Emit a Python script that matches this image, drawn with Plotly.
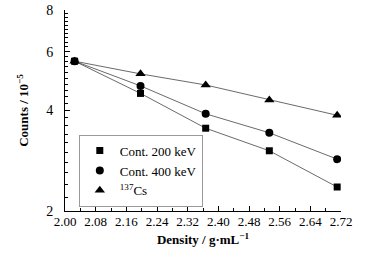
import numpy as np
import plotly.graph_objects as go

density = [2.025, 2.197, 2.367, 2.533, 2.710]
cont200 = [5.62, 4.50, 3.54, 3.03, 2.36]
cont400 = [5.62, 4.74, 3.91, 3.43, 2.86]
cs137 = [5.62, 5.15, 4.77, 4.30, 3.87]

series = [
    ("Cont. 200 keV", cont200, "square", 7),
    ("Cont. 400 keV", cont400, "circle", 8),
    ("<sup>137</sup>Cs", cs137, "triangle-up", 9),
]

x_ticks = [round(2.00 + 0.08 * i, 2) for i in range(10)]
x_minor = [round(2.04 + 0.08 * i, 2) for i in range(9)]
y_ticks = [2, 4, 6, 8]
y_minor = [round(2 + 0.2 * i, 1) for i in range(31) if round(2 + 0.2 * i, 1) not in y_ticks]

font = "Liberation Serif, Times New Roman, serif"

fig = go.Figure()
for name, vals, sym, size in series:
    fig.add_trace(go.Scatter(x=density, y=vals, mode="lines",
                             line=dict(color="#444444", width=0.8),
                             showlegend=False, hoverinfo="skip"))
for name, vals, sym, size in series:
    fig.add_trace(go.Scatter(x=density, y=vals, mode="markers", name=name,
                             marker=dict(symbol=sym, size=size, color="black")))

fig.update_layout(
    width=378, height=260,
    margin=dict(l=65, r=37, t=10, b=49, autoexpand=False),
    paper_bgcolor="white", plot_bgcolor="white",
    font=dict(family=font, size=12, color="black"),
    legend=dict(x=0.05, y=0.38, xanchor="left", yanchor="top",
                bordercolor="#999999", borderwidth=1, itemwidth=30,
                font=dict(family=font, size=13, color="black"),
                tracegroupgap=0, itemsizing="trace",
                bgcolor="white"),
)
fig.update_xaxes(
    range=[2.00, 2.72], tickvals=x_ticks, ticktext=[f"{v:.2f}" for v in x_ticks],
    ticks="inside", ticklen=5, tickwidth=1, tickcolor="black", automargin=False,
    showline=True, linecolor="black", linewidth=1, showgrid=False, zeroline=False,
    minor=dict(tickvals=x_minor, ticks="inside", ticklen=3, tickcolor="black", showgrid=False),
    tickfont=dict(family=font, size=13, color="black"), ticklabelstandoff=-2,
    title=dict(text="<b>Density / g·mL<sup>−1</sup></b>", standoff=7,
               font=dict(family=font, size=13, color="black")),
)
fig.update_yaxes(
    type="log", range=[np.log10(2), np.log10(8)],
    tickvals=y_ticks, ticktext=[str(v) for v in y_ticks],
    ticks="inside", ticklen=5, tickwidth=1, tickcolor="black", automargin=False,
    showline=True, linecolor="black", linewidth=1, showgrid=False, zeroline=False,
    minor=dict(tickvals=y_minor, ticks="inside", ticklen=3, tickcolor="black", showgrid=False),
    tickfont=dict(family=font, size=14, color="black"), ticklabelstandoff=8,
    title=dict(text="<b>Counts / 10<sup>−5</sup></b>", standoff=14,
               font=dict(family=font, size=13, color="black")),
)

fig.write_html("out.html", config={"displayModeBar": False},
               post_script="document.body.style.margin='0';")
